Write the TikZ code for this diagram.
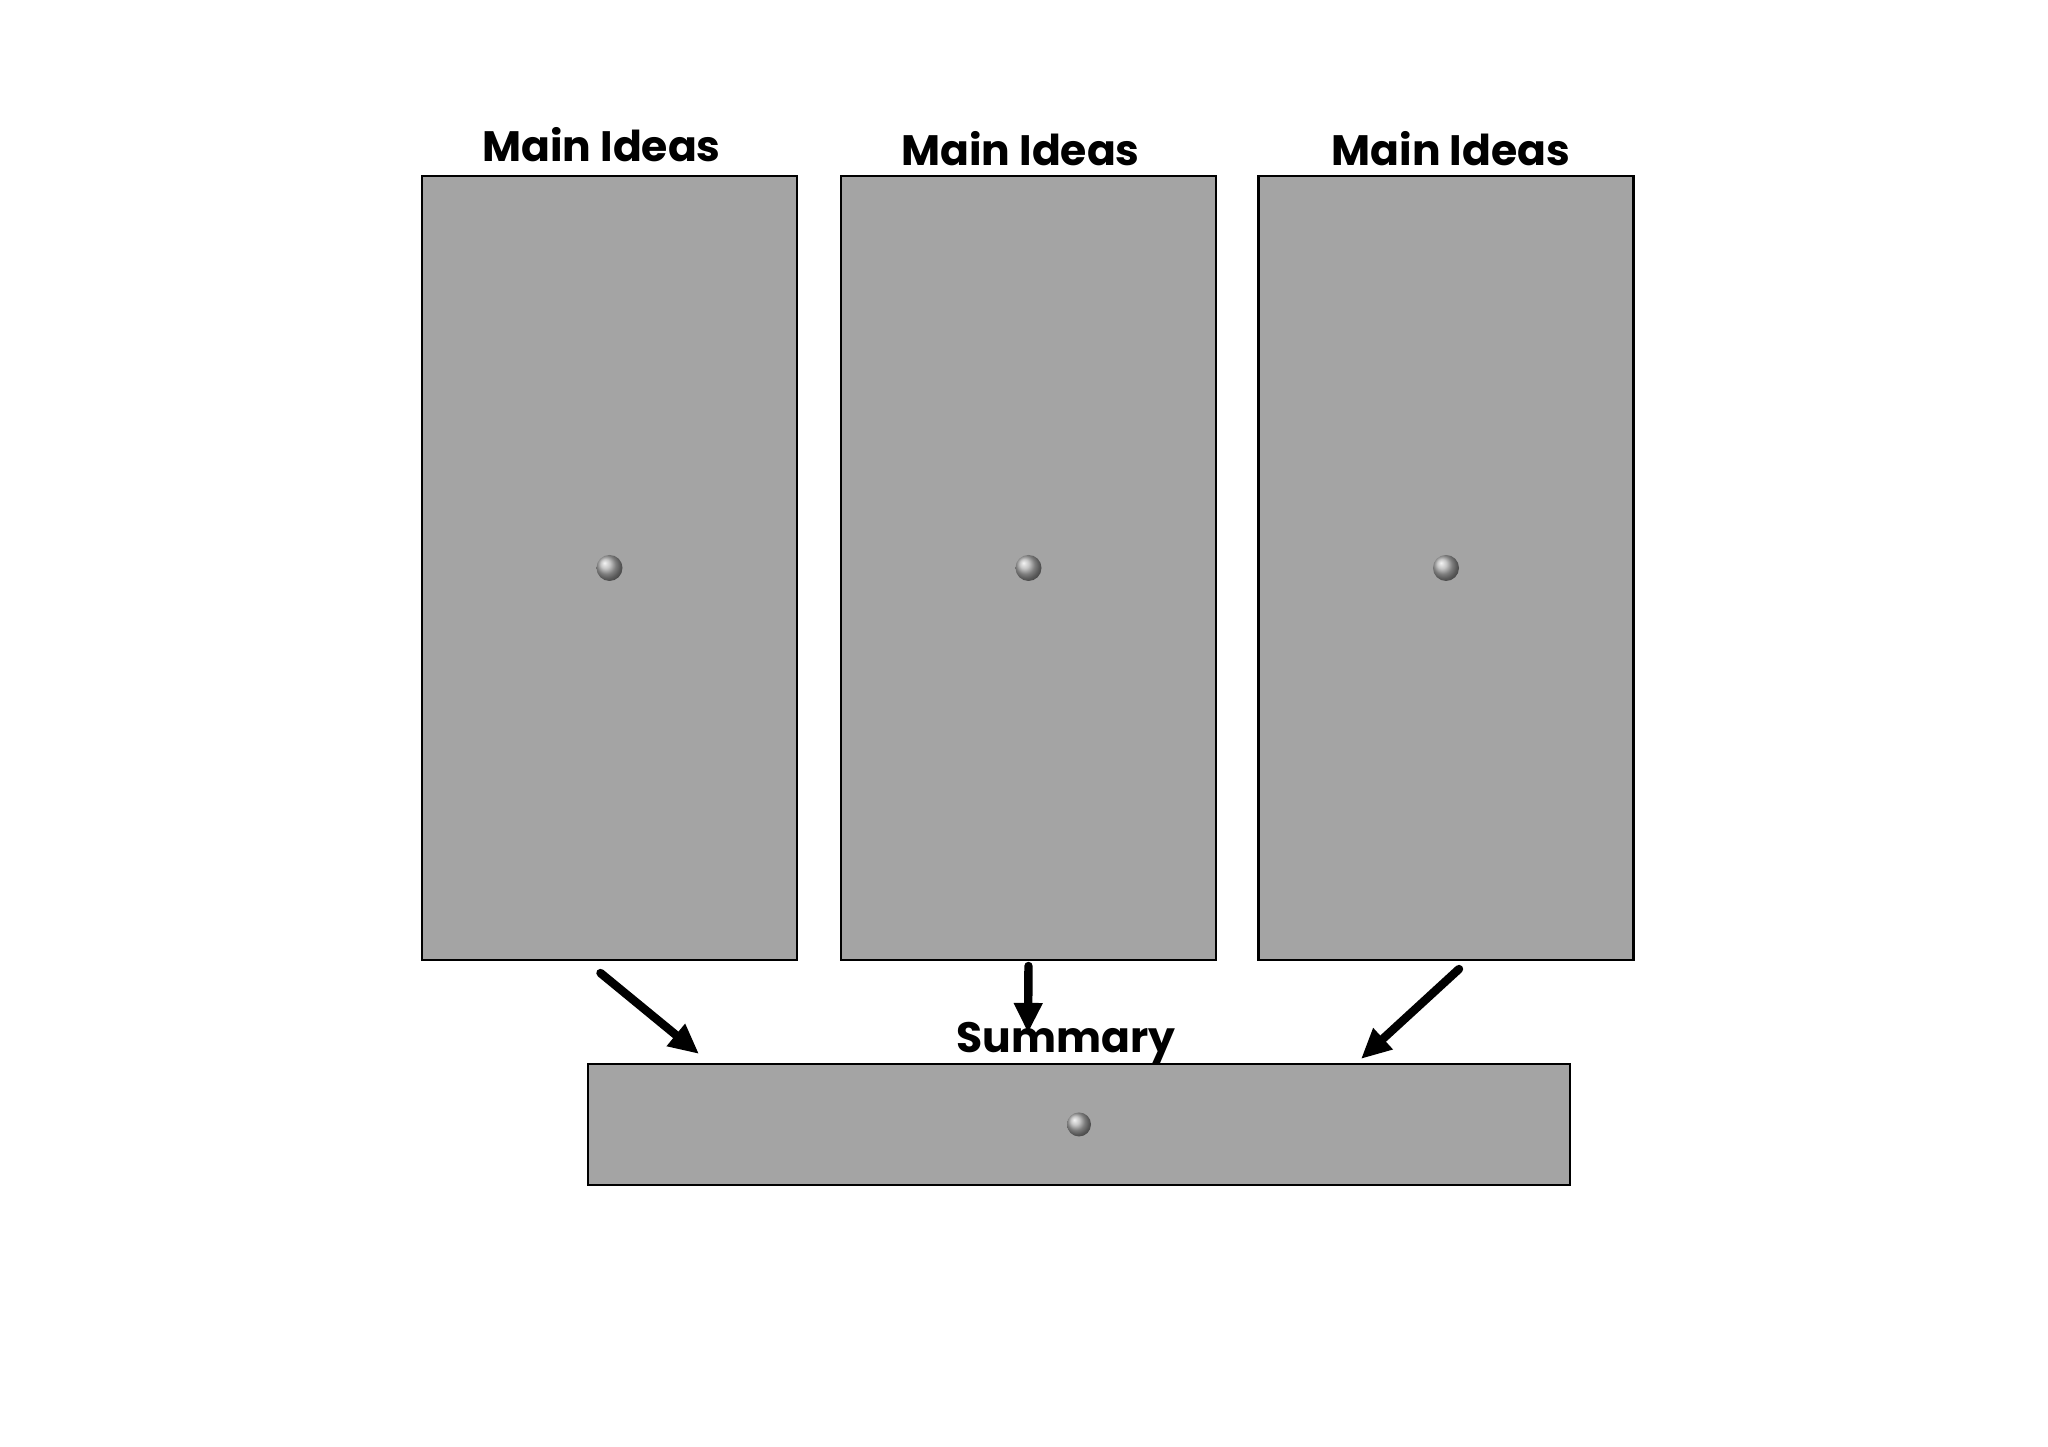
\documentclass[tikz,border=0pt]{standalone}
\usepackage{fontspec}
\setmainfont{Poppins}
\usepackage{tikz}
\usepackage{xcolor}
\usetikzlibrary{arrows.meta, positioning, calc}

\definecolor{boxgray}{RGB}{164,164,164}

\tikzset{
    ideabox/.style={draw=black, line width=0.6pt, fill=boxgray, inner sep=0pt},
    boxtitle/.style={font=\bfseries\fontsize{12.1}{14}\selectfont, inner sep=0pt},
    flow/.style={line width=2.4pt, line cap=round, -{Triangle[length=0.3cm, width=0.27cm]}},
    knob/.style={ball color=gray!60}
}

\begin{document}
\begin{tikzpicture}
\useasboundingbox (0,0) rectangle (20.48,14.47);
% three main idea columns
\foreach \i/\x/\gap/\dx in {1/6.095/0.12/-0.08, 2/10.285/0.08/-0.08, 3/14.46/0.08/0.05} {
    \node[ideabox, minimum width=3.75cm, minimum height=7.84cm] (idea\i) at (\x,8.79) {};
    \shade[knob] (idea\i.center) circle (0.13);
    \node[boxtitle, above=\gap cm of idea\i, xshift=\dx cm] (title\i) {Main Ideas};
}
% summary strip
\node[ideabox, minimum width=9.82cm, minimum height=1.21cm] (summary) at (10.79,3.225) {};
\shade[knob] (summary.center) circle (0.12);
\node[boxtitle, above=-0.02cm of summary, xshift=-0.13cm] (sumtitle) {Summary};
% arrows into the summary
\draw[flow] ([xshift=-0.09cm, yshift=-0.12cm]idea1.south) -- ([xshift=-3.8cm, yshift=0.09cm]summary.north);
\draw[flow] ([yshift=-0.05cm]idea2.south) -- ([xshift=-0.51cm, yshift=0.3cm]summary.north);
\draw[flow] ([xshift=0.13cm, yshift=-0.08cm]idea3.south) -- ([xshift=2.82cm, yshift=0.04cm]summary.north);
\end{tikzpicture}
\end{document}
